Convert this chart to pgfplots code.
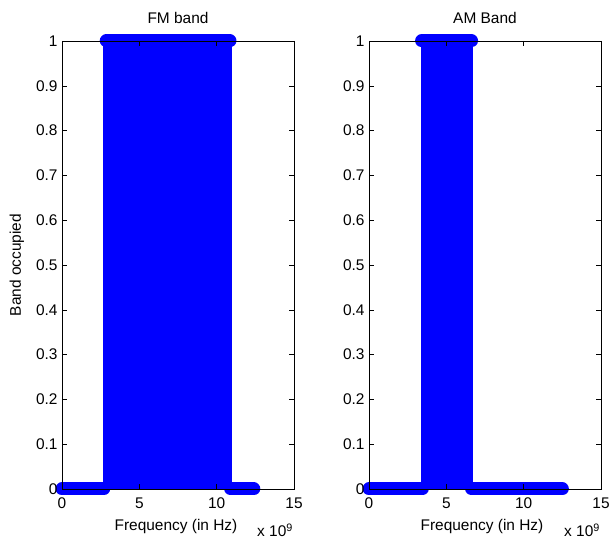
\documentclass[border=0pt]{standalone}
\usepackage{pgfplots}
\pgfplotsset{compat=1.18}
\usepackage{fontspec}
\setmainfont{Liberation Sans}
\definecolor{mblue}{RGB}{0,0,255}
\newcommand{\mf}{\fontsize{15.5}{15.5}\selectfont}
\pgfplotsset{
  bandax/.style={
    scale only axis, width=232bp, height=448bp,
    anchor=south west,
    xmin=0, xmax=15, ymin=0, ymax=1,
    xtick={0,5,10,15},
    ytick={0,0.1,0.2,0.3,0.4,0.5,0.6,0.7,0.8,0.9,1},
    tick align=inside, major tick length=5bp,
    tick style={black, line width=0.5bp},
    axis line style={black, line width=0.6bp},
    /pgf/number format/assume math mode=true,
    ticklabel style={font=\mf},
    xticklabel style={yshift=-5bp},
    yticklabel style={xshift=-1bp},
    axis on top, clip=false,
  },
  sig/.style={mblue, line width=13bp, line cap=round},
  blk/.style={draw=none, fill=mblue},
}
\begin{document}
\begin{tikzpicture}[x=1bp,y=1bp]
\path[use as bounding box] (0,0) rectangle (612,540);
\begin{axis}[bandax, at={(62bp,51bp)}]
  \addplot[blk] coordinates {(2.67,0) (2.67,1) (10.97,1) (10.97,0)} -- cycle;
  \addplot[sig] coordinates {(2.86,1) (10.86,1)};
  \addplot[sig] coordinates {(0,0) (2.7,0)};
  \addplot[sig] coordinates {(10.9,0) (12.4,0)};
\end{axis}
\begin{axis}[bandax, at={(369bp,51bp)}]
  \addplot[blk] coordinates {(3.33,0) (3.33,1) (6.71,1) (6.71,0)} -- cycle;
  \addplot[sig] coordinates {(3.4,1) (6.63,1)};
  \addplot[sig] coordinates {(0,0) (3.45,0)};
  \addplot[sig] coordinates {(6.63,0) (12.5,0)};
\end{axis}
\node[font=\mf, anchor=base] at (178,516) {FM band};
\node[font=\mf, anchor=base] at (485,516) {AM Band};
\node[font=\mf, rotate=90] at (17,275) {Band occupied};
\node[font=\mf, anchor=base] at (176,9) {Frequency (in Hz)};
\node[font=\mf, anchor=base] at (482,9) {Frequency (in Hz)};
\node[font=\mf, anchor=base west, inner sep=0pt] at (257,3) {x 10\textsuperscript{9}};
\node[font=\mf, anchor=base west, inner sep=0pt] at (564,3) {x 10\textsuperscript{9}};
\end{tikzpicture}
\end{document}
